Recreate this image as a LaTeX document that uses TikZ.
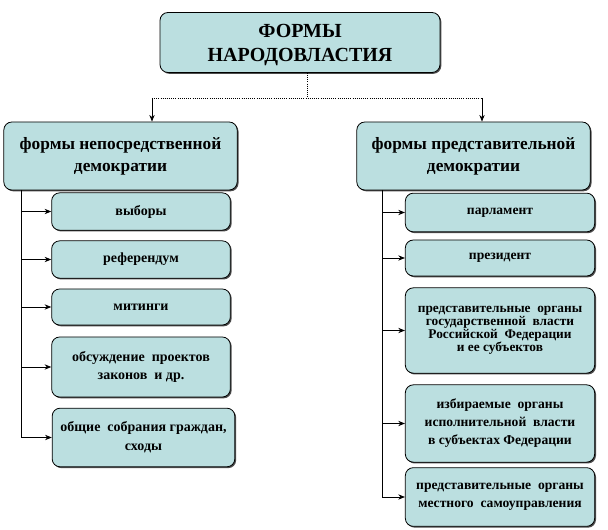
\documentclass[tikz,border=0pt]{standalone}
\usepackage{fontspec}
\setmainfont{Liberation Serif}[BoldFont={Liberation Serif Bold}]
\usetikzlibrary{arrows.meta,shadows}
\definecolor{BoxClr}{RGB}{187,223,224}

\tikzset{
  box/.style={draw=black, line width=0.6pt, rounded corners=6pt, fill=BoxClr,
    align=center, inner sep=1pt, font=\bfseries,
    drop shadow={shadow xshift=1pt, shadow yshift=-1pt, fill=black!70, opacity=1}},
  topbox/.style={box, minimum width=210pt, minimum height=45pt, font=\fontsize{15}{18}\selectfont\bfseries},
  bigbox/.style={box, minimum width=175pt, minimum height=51pt, font=\fontsize{13}{16.5}\selectfont\bfseries},
  leftbox/.style={box, minimum width=134pt, font=\fontsize{10.5}{14}\selectfont\bfseries},
  rightbox/.style={box, minimum width=142pt, font=\fontsize{10.2}{13.5}\selectfont\bfseries},
  link/.style={line width=0.6pt, -{Stealth[length=5pt,width=4pt]}},
  trunk/.style={line width=0.6pt}
}

\begin{document}
\begin{tikzpicture}[x=0.75pt,y=-0.75pt]
\useasboundingbox (0,0) rectangle (608,530);

% Top of the tree.
\node[topbox] (forms) at (300,42.5) {\rule{0pt}{14pt}ФОРМЫ\\НАРОДОВЛАСТИЯ};

% Two kinds of democracy.
\node[bigbox] (direct) at (120.5,156) {формы непосредственной\\демократии};
\node[bigbox] (repr) at (473.5,156) {формы представительной\\демократии};

% Direct democracy forms.
\node[leftbox, minimum height=28pt] (elect) at (141,211.5) {выборы};
\node[leftbox, minimum height=28pt] (refer) at (141,259.5) {референдум};
\node[leftbox, minimum height=27pt] (rally) at (141,307) {митинги};
\node[leftbox, minimum height=45pt] (discuss) at (141,367) {обсуждение\ \ проектов\\законов\ \ и др.};
\node[leftbox, minimum height=44pt, minimum width=137pt] (meet) at (143.5,437.5) {общие\ \ собрания граждан,\\сходы};

% Representative democracy forms.
\node[rightbox, minimum height=29pt] (parl) at (500,212.5) {парламент};
\node[rightbox, minimum height=27pt] (pres) at (500,258) {президент};
\node[rightbox, minimum height=64pt, font=\fontsize{10}{9.8}\selectfont\bfseries] (state) at (500,330.5)
  {представительные\ \ органы\\государственной\ \ власти\\Российской\ \ Федерации\\и ее субъектов};
\node[rightbox, minimum height=58pt] (exec) at (500,423.5) {избираемые\ \ органы\\исполнительной\ \ власти\\в субъектах Федерации};
\node[rightbox, minimum height=44pt] (local) at (500,497) {представительные\ \ органы\\местного\ \ самоуправления};

% Connector from the top box.
\coordinate (split) at (307,98);
\coordinate (lsplit) at (152,98);
\coordinate (rsplit) at (482,98);
\draw[trunk, densely dotted] (forms.south -| split) -- (split);
\draw[trunk, densely dotted] (lsplit) -- (rsplit);
\draw[link] (lsplit) -- (lsplit |- direct.north);
\draw[link] (rsplit) -- (rsplit |- repr.north);

% Trunks.
\coordinate (ltop) at (21,190);
\coordinate (rtop) at (382,190);
\draw[trunk] (ltop) -- (ltop |- meet.west);
\draw[trunk] (rtop) -- (rtop |- local.west);

% Branches.
\foreach \b in {elect,refer,rally,discuss,meet}
  \draw[link] (ltop |- \b.west) -- (\b.west);
\foreach \b in {parl,pres,state,exec,local}
  \draw[link] (rtop |- \b.west) -- (\b.west);

\end{tikzpicture}
\end{document}
